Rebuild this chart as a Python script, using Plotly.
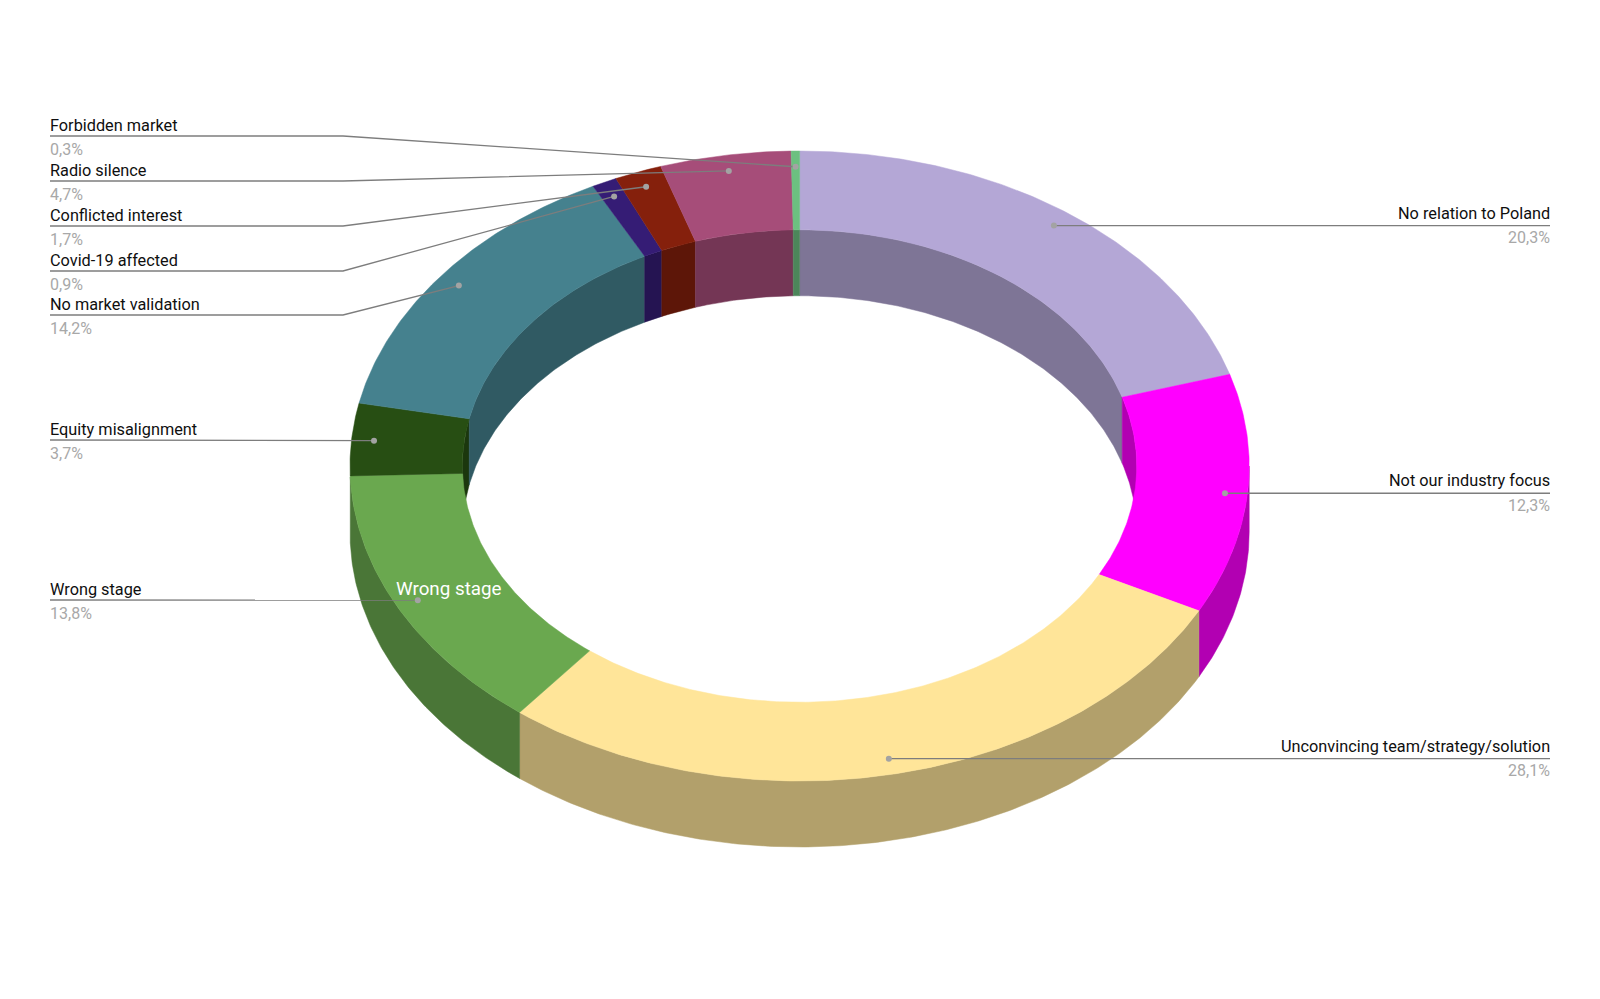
import math
import plotly.graph_objects as go

categories = ["No relation to Poland", "Not our industry focus", "Unconvincing team/strategy/solution",
              "Wrong stage", "Equity misalignment", "No market validation", "Covid-19 affected",
              "Conflicted interest", "Radio silence", "Forbidden market"]
values = [20.3, 12.3, 28.1, 13.8, 3.7, 14.2, 0.9, 1.7, 4.7, 0.3]
colors = ["#b4a7d6", "#ff00ff", "#ffe599", "#6aa84f", "#274e13", "#45818e", "#351c75", "#85200c", "#a64d79", "#6cc080"]
label_y = [223, 492.5, 758.5, 600, 440, 315, 271, 226, 181, 136]
side = ["R", "R", "R", "L", "L", "L", "L", "L", "L", "L"]

CX, CY, RX, RY, HOLE, DEPTH = 799.6, 466, 449.6, 315, 0.75, 66
DOT_R = 0.95
OUTER_WALL = (90, 268)  # the sliver past 268 degrees is not drawn in the reference
LEFT_X, ELBOW_X, RIGHT_X = 50, 343, 1550
FONT = "Roboto"
PAGE_MARGIN = 8  # the page's own body margin


def pt(theta, r=1.0, dy=0.0):
    t = math.radians(theta)
    return CX + RX * r * math.sin(t), CY - RY * r * math.cos(t) + dy


def arc(a, b, r=1.0, dy=0.0):
    n = max(2, int(abs(b - a) / 0.5) + 1)
    pts = [pt(a + (b - a) * i / (n - 1), r, dy) for i in range(n)]
    return [p[0] for p in pts], [p[1] for p in pts]


def darken(c, f=0.7):
    rgb = [int(c[i:i + 2], 16) for i in (1, 3, 5)]
    return "rgb(%d,%d,%d)" % tuple(round(v * f) for v in rgb)


def poly(xs, ys, color):
    return go.Scatter(x=xs + xs[:1], y=ys + ys[:1], mode="lines", fill="toself", fillcolor=color,
                      line=dict(color=color, width=0.5), hoverinfo="skip", showlegend=False)


def band(a, b, r1, dy1, r2, dy2, color):
    x1, y1 = arc(a, b, r1, dy1)
    x2, y2 = arc(b, a, r2, dy2)
    return poly(x1 + x2, y1 + y2, color)


fig = go.Figure()
bounds = []
acc = 0.0
total = sum(values)
for v in values:
    bounds.append((acc / total * 360, (acc + v) / total * 360))
    acc += v

# inner walls (visible on the far half of the hole)
for (a, b), c in zip(bounds, colors):
    for lo, hi in ((0, 90), (270, 360)):
        s, e = max(a, lo), min(b, hi)
        if e > s:
            fig.add_trace(band(s, e, HOLE, 0, HOLE, DEPTH, darken(c)))
# outer walls (visible on the near half)
for (a, b), c in zip(bounds, colors):
    s, e = max(a, OUTER_WALL[0]), min(b, OUTER_WALL[1])
    if e > s:
        fig.add_trace(band(s, e, 1, 0, 1, DEPTH, darken(c)))
# top faces
for (a, b), c in zip(bounds, colors):
    fig.add_trace(band(a, b, 1, 0, HOLE, 0, c))

# leaders, dots and labels
annotations = []
for (a, b), name, v, ly, sd in zip(bounds, categories, values, label_y, side):
    dx, dy = pt((a + b) / 2, DOT_R)
    if sd == "R":
        lx, ly_pts = [dx, RIGHT_X], [dy, dy]
    else:
        lx, ly_pts = [LEFT_X, ELBOW_X, dx], [ly, ly, dy]
    fig.add_trace(go.Scatter(x=lx, y=ly_pts, mode="lines", line=dict(color="#7d7d7d", width=1.3),
                             hoverinfo="skip", showlegend=False))
    fig.add_trace(go.Scatter(x=[dx], y=[dy], mode="markers", marker=dict(color="#a3a3a3", size=6),
                             hoverinfo="skip", showlegend=False))
    tx = RIGHT_X + 0.5 if sd == "R" else LEFT_X - 0.7
    anchor = "right" if sd == "R" else "left"
    name_y = dy - 12.5 if sd == "R" else ly - 11
    pct_y = dy + 12 if sd == "R" else ly + 13
    annotations.append(dict(x=tx, y=name_y, text=name, showarrow=False, xanchor=anchor, yanchor="middle",
                            borderpad=0, font=dict(family=FONT, size=16.3, color="#0f0f0f")))
    annotations.append(dict(x=tx, y=pct_y, text=f"{v:.1f}%".replace(".", ","), showarrow=False, xanchor=anchor,
                            yanchor="middle", borderpad=0, font=dict(family=FONT, size=16, color="#a8a8a8")))

annotations.append(dict(x=448.5, y=589, text="Wrong stage", showarrow=False, xanchor="center", yanchor="middle",
                        borderpad=0, font=dict(family=FONT, size=18.8, color="#ffffff")))

W, H = 1600 - 2 * PAGE_MARGIN, 999 - 2 * PAGE_MARGIN
fig.update_layout(width=W, height=H, margin=dict(l=0, r=0, t=0, b=0), paper_bgcolor="white",
                  plot_bgcolor="white", showlegend=False, annotations=annotations,
                  xaxis=dict(range=[PAGE_MARGIN, PAGE_MARGIN + W], visible=False, fixedrange=True),
                  yaxis=dict(range=[PAGE_MARGIN + H, PAGE_MARGIN], visible=False, fixedrange=True))
fig.write_html("out.html", config={"displayModeBar": False})
